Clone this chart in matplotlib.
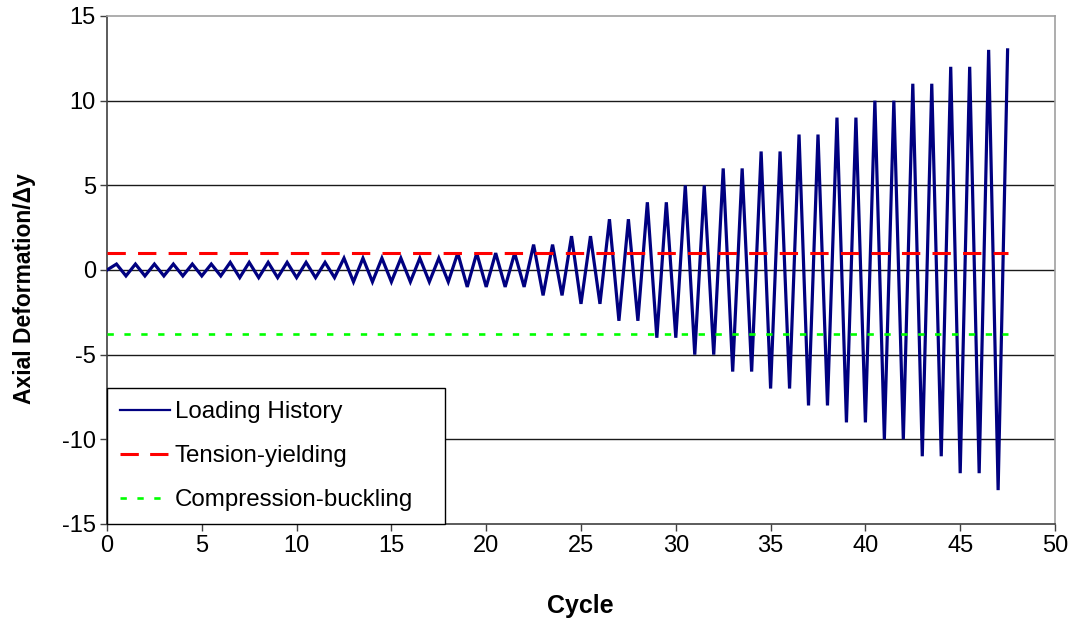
import matplotlib
matplotlib.use("Agg")
import matplotlib.pyplot as plt
from matplotlib.lines import Line2D

# ---- data ----
cycle_amplitudes = [0.35] * 6 + [0.45] * 6 + [0.7] * 6 + [1.0] * 4 + \
    [1.5, 1.5, 2, 2, 3, 3, 4, 4, 5, 5, 6, 6, 7, 7, 8, 8, 9, 9, 10, 10, 11, 11, 12, 12, 13, 13]
tension_yield = 1.0
compression_buckling = -3.75
x_ticks = [0, 5, 10, 15, 20, 25, 30, 35, 40, 45, 50]
y_ticks = [-15, -10, -5, 0, 5, 10, 15]
legend_labels = ["Loading History", "Tension-yielding", "Compression-buckling"]

# vertices of the loading history: start at 0, peak at k+0.5, trough at k+1
xs = [0.0]
ys = [0.0]
n = len(cycle_amplitudes)
for k, a in enumerate(cycle_amplitudes):
    xs.append(k + 0.5)
    ys.append(a)
    if k < n - 1:
        xs.append(k + 1.0)
        ys.append(-a)
x_end = xs[-1]

plt.rcParams['font.family'] = ['Liberation Sans', 'DejaVu Sans']
plt.rcParams['axes.unicode_minus'] = False

W, H = 1073, 625
fig = plt.figure(figsize=(W / 100, H / 100), dpi=100)
ax = fig.add_axes([107 / W, 1 - 524 / H, 948 / W, 508 / H])

for yv in [-10, -5, 0, 5, 10]:
    ax.axhline(yv, color='#1a1a1a', lw=1.0, zorder=1)

ax.plot(xs, ys, color='#000080', lw=2.3, zorder=3, solid_joinstyle='miter')
ax.plot([0, x_end], [tension_yield, tension_yield], color='#ff0000', lw=2.2,
        dashes=(6, 4), zorder=4)
ax.plot([0, x_end], [compression_buckling, compression_buckling], color='#00ff00',
        lw=1.9, dashes=(2.4, 4), zorder=4)

ax.set_xlim(0, 50)
ax.set_ylim(-15, 15)
ax.set_xticks(x_ticks)
ax.set_yticks(y_ticks)
ax.tick_params(axis='both', direction='out', length=5, width=1.0, color='#404040',
               labelsize=17, pad=3)
for s in ['left', 'bottom']:
    ax.spines[s].set_color('#404040')
    ax.spines[s].set_linewidth(1.2)
for s in ['top', 'right']:
    ax.spines[s].set_color('#a0a0a0')
    ax.spines[s].set_linewidth(1.2)

fig.text(580 / W, 1 - 606 / H, 'Cycle', fontsize=18, fontweight='bold',
         ha='center', va='center')
fig.text(25 / W, 1 - 289 / H, 'Axial Deformation/\u0394y', fontsize=16.5,
         fontweight='bold', ha='center', va='center', rotation=90)

handles = [
    Line2D([], [], color='#000080', lw=1.6),
    Line2D([], [], color='#ff0000', lw=2.2, dashes=(6, 3.7)),
    Line2D([], [], color='#00ff00', lw=1.9, dashes=(2.4, 4)),
]
leg = ax.legend(handles, legend_labels, loc='lower left',
                bbox_to_anchor=(0, 0, 338 / 948, 0.3), mode='expand',
                fontsize=17.4, frameon=True, fancybox=False, framealpha=1,
                edgecolor='black', handlelength=2.07, handletextpad=0.22,
                labelspacing=0.92, borderpad=0.52, borderaxespad=0)
leg.get_frame().set_linewidth(1.0)
leg.set_zorder(10)

fig.savefig('out.png', dpi=100, facecolor='white')
